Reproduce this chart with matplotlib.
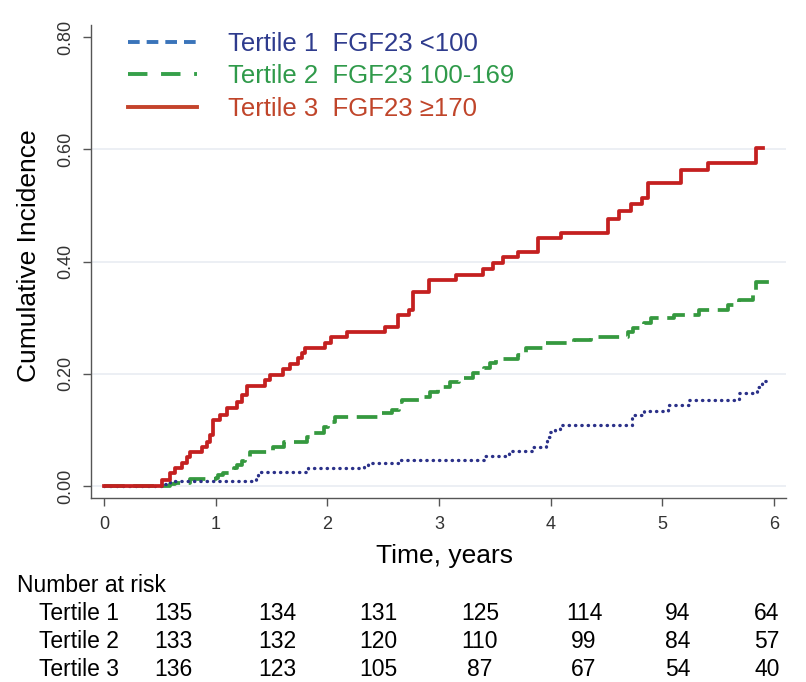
import matplotlib
matplotlib.use("Agg")
import matplotlib.pyplot as plt
from matplotlib.lines import Line2D

plt.rcParams['font.family'] = ['Liberation Sans', 'DejaVu Sans']

# ---- data ----
t1_time = [0, 0.52, 0.59, 1.36, 1.38, 1.41, 1.83, 2.33, 2.36, 2.64, 3.40, 3.63, 3.83,
           3.96, 3.97, 3.99, 4.04, 4.08, 4.73, 4.84, 5.05, 5.24, 5.69, 5.85, 5.89, 5.95]
t1_cuminc = [0, 0.004, 0.009, 0.016, 0.021, 0.025, 0.032, 0.037, 0.041, 0.046, 0.053, 0.062, 0.070,
             0.078, 0.087, 0.096, 0.101, 0.109, 0.127, 0.134, 0.144, 0.153, 0.166, 0.176, 0.187, 0.187]

t2_time = [0, 0.52, 0.59, 0.64, 0.77, 1.00, 1.02, 1.07, 1.16, 1.19, 1.24, 1.26, 1.31, 1.51, 1.61,
           1.82, 1.85, 1.97, 2.01, 2.07, 2.45, 2.58, 2.64, 2.67, 2.86, 2.92, 2.99, 3.10, 3.18,
           3.30, 3.40, 3.46, 3.51, 3.71, 3.78, 3.96, 4.21, 4.36, 4.69, 4.74, 4.84, 4.90, 5.10,
           5.33, 5.59, 5.69, 5.81, 5.84, 5.99]
t2_cuminc = [0, 0.0, 0.004, 0.006, 0.012, 0.014, 0.020, 0.023, 0.032, 0.037, 0.045, 0.052, 0.061,
             0.070, 0.078, 0.087, 0.094, 0.105, 0.114, 0.123, 0.130, 0.135, 0.150, 0.153, 0.159,
             0.168, 0.176, 0.185, 0.193, 0.201, 0.210, 0.219, 0.226, 0.234, 0.246, 0.255, 0.260,
             0.266, 0.275, 0.282, 0.291, 0.299, 0.305, 0.314, 0.323, 0.332, 0.344, 0.364, 0.364]

t3_time = [0, 0.52, 0.59, 0.64, 0.70, 0.74, 0.77, 0.88, 0.92, 0.95, 0.98, 1.04, 1.10, 1.19, 1.24,
           1.28, 1.44, 1.49, 1.60, 1.67, 1.74, 1.77, 1.80, 1.98, 2.03, 2.18, 2.52, 2.63, 2.73,
           2.77, 2.91, 3.15, 3.39, 3.48, 3.57, 3.71, 3.89, 4.09, 4.51, 4.61, 4.72, 4.82, 4.87,
           5.17, 5.41, 5.84, 5.90]
t3_cuminc = [0, 0.011, 0.023, 0.032, 0.041, 0.052, 0.061, 0.070, 0.078, 0.091, 0.118, 0.127, 0.139,
             0.150, 0.162, 0.178, 0.189, 0.198, 0.209, 0.217, 0.228, 0.237, 0.246, 0.255, 0.266,
             0.275, 0.283, 0.305, 0.314, 0.346, 0.367, 0.376, 0.387, 0.398, 0.408, 0.417, 0.442,
             0.451, 0.476, 0.490, 0.503, 0.513, 0.540, 0.563, 0.576, 0.602, 0.602]

labels = ["Tertile 1  FGF23 <100", "Tertile 2  FGF23 100-169", "Tertile 3  FGF23 \u2265170"]
row_names = ["Tertile 1", "Tertile 2", "Tertile 3"]
risk_t1 = [135, 134, 131, 125, 114, 94, 64]
risk_t2 = [133, 132, 120, 110, 99, 84, 57]
risk_t3 = [136, 123, 105, 87, 67, 54, 40]
xticks = [0, 1, 2, 3, 4, 5, 6]
yticks = [0.0, 0.2, 0.4, 0.6, 0.8]

# ---- styling ----
W, H = 806, 682
fig = plt.figure(figsize=(W / 100, H / 100), dpi=100)
ax = fig.add_axes([91 / W, 1 - 498 / H, (786 - 91) / W, (498 - 25) / H])

blue_c, green_c, red_c = '#2b3189', '#35993f', '#c42020'

for v in yticks[:-1]:
    ax.axhline(v, color='#eaeef3', lw=1.3, zorder=0)

ax.step(t1_time, t1_cuminc, where='post', color=blue_c, lw=2.4,
        linestyle=(0, (0.1, 1.8)), dash_capstyle='round', zorder=3)
ax.step(t2_time, t2_cuminc, where='post', color=green_c, lw=2.7,
        linestyle=(0, (5.5, 2.3)), zorder=2)
ax.step(t3_time, t3_cuminc, where='post', color=red_c, lw=2.7, zorder=4)

ax.set_xlim(-0.116, 6.107)
ax.set_ylim(-0.0214, 0.8214)
ax.set_xticks(xticks)
ax.set_yticks(yticks)
ax.set_yticklabels([f"{v:.2f}" for v in yticks], rotation=90, va='center')
ax.tick_params(axis='both', direction='out', length=6, width=1, color='#555555',
               labelsize=13, labelcolor='#333333')
ax.tick_params(axis='x', pad=7)
ax.tick_params(axis='y', pad=6)
for s in ['top', 'right']:
    ax.spines[s].set_visible(False)
for s in ['left', 'bottom']:
    ax.spines[s].set_color('#555555')
    ax.spines[s].set_linewidth(1)

ax.set_xlabel("Time, years", fontsize=19)
ax.xaxis.set_label_coords((445 - 91) / (786 - 91), -0.097)
ax.set_ylabel("Cumulative Incidence", fontsize=19)
ax.yaxis.set_label_coords(-0.072, (498 - 256) / (498 - 25))

handles = [
    Line2D([], [], color='#3a74ba', lw=2.8, linestyle=(0, (3.0, 1.8))),
    Line2D([], [], color='#36a04a', lw=2.8, linestyle=(0, (5.0, 3.5))),
    Line2D([], [], color='#c4432b', lw=2.8),
]
leg = ax.legend(handles, labels, loc='upper left',
                bbox_to_anchor=((128 - 91) / 695, (498 - 32) / 473),
                frameon=False, fontsize=18.5, handlelength=2.7, handletextpad=1.2,
                labelspacing=0.33, borderpad=0, borderaxespad=0)
for txt, c in zip(leg.get_texts(), ['#2e3b8d', '#2f9a4a', '#c0452a']):
    txt.set_color(c)

# ---- number at risk table ----
def fx(px):
    return px / W

def fy(py):
    return 1 - py / H

fig.text(fx(17), fy(592), "Number at risk", fontsize=16.5, va='baseline', ha='left')
col_x = [173, 277, 378, 480, 584, 678, 767]
row_y = [620, 648.5, 676.5]
for name, vals, yb in zip(row_names, [risk_t1, risk_t2, risk_t3], row_y):
    fig.text(fx(39), fy(yb), name, fontsize=16.5, va='baseline', ha='left')
    for cx, v in zip(col_x, vals):
        fig.text(fx(cx), fy(yb), str(v), fontsize=16.5, va='baseline', ha='center')

fig.savefig("out.png", dpi=100)
